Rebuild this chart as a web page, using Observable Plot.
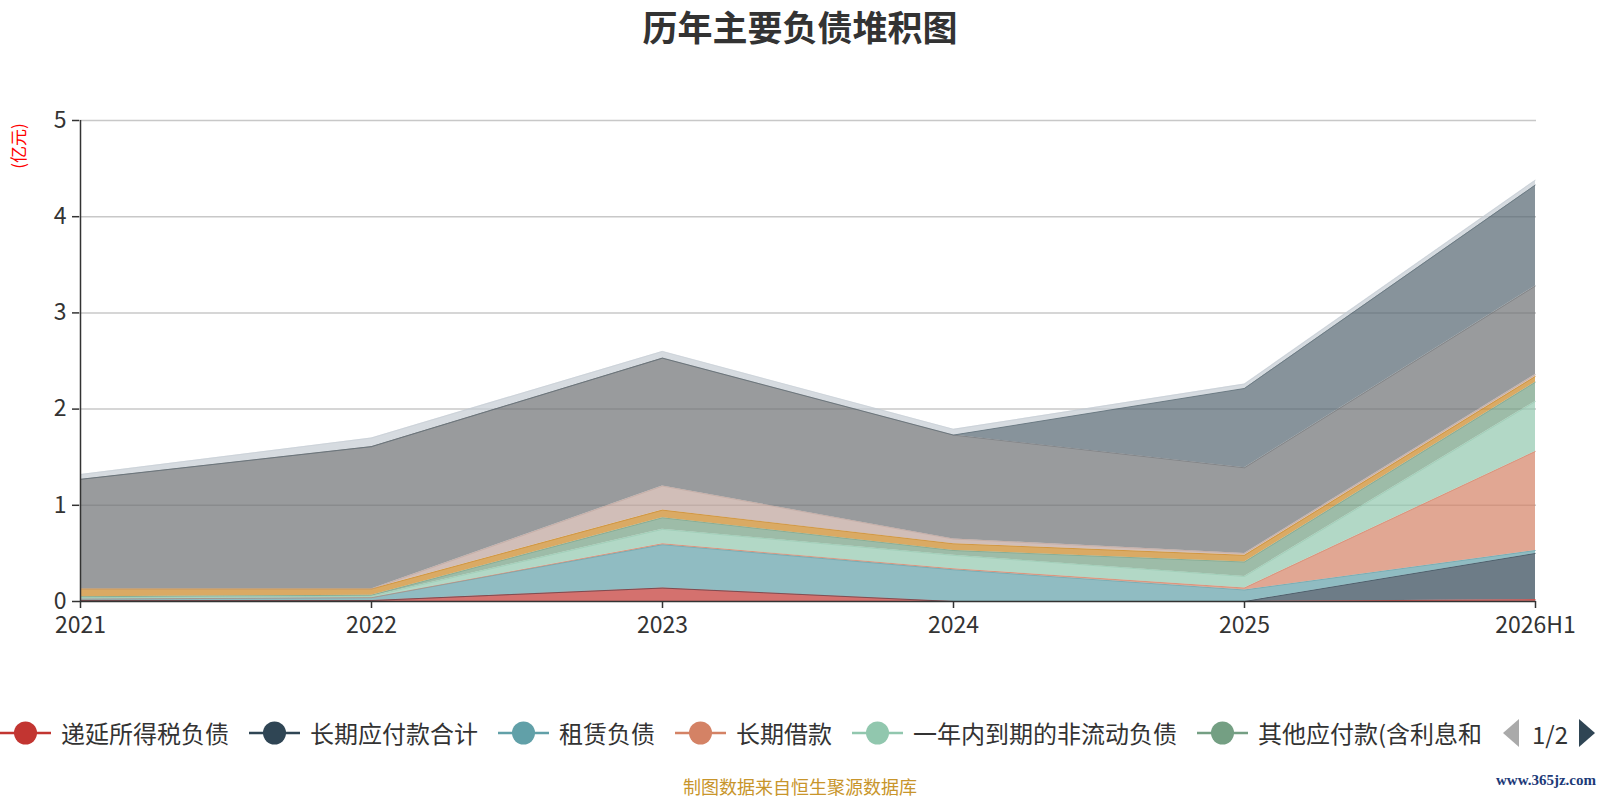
<!DOCTYPE html>
<html>
<head>
<meta charset="utf-8">
<script src="https://cdn.jsdelivr.net/npm/d3@7"></script>
<script src="https://cdn.jsdelivr.net/npm/@observablehq/plot@0.6"></script>
<style>
  html, body { margin: 0; padding: 0; background: #fff; }
  #wrap { position: relative; width: 1600px; height: 800px; overflow: hidden;
          font-family: "Noto Sans CJK SC", "Noto Sans", sans-serif; color: #333; }
  #title { position: absolute; left: 0; width: 1600px; top: 4px; text-align: center;
           font-size: 35px; font-weight: bold; color: #333; line-height: 44px; }
  #ylabel { position: absolute; left: 17px; top: 146px; transform: translate(-50%, -50%) rotate(-90deg);
            color: #ff0000; font-size: 17px; white-space: nowrap; }
  #chart { position: absolute; left: 0; top: 0; }
  #legend { position: absolute; left: 0; top: 715px; height: 36px; display: flex; align-items: center; }
  .item { display: flex; align-items: center; margin-right: 20px; }
  .item span { font-size: 24px; color: #333; margin-left: 10px; white-space: nowrap; line-height: 36px; }
  #pager { position: absolute; left: 1502px; top: 715px; height: 36px; display: flex; align-items: center; }
  #pager span { font-size: 24px; color: #333; margin: 0 10px 0 12px; }
  #footer { position: absolute; left: 0; width: 1600px; top: 775px; text-align: center;
            font-size: 18px; color: #c8952b; line-height: 22px; }
  #mark { position: absolute; right: 4px; top: 772px; font-family: "Liberation Serif", serif;
          font-weight: bold; font-size: 15px; color: #1d3a78; }
</style>
</head>
<body>
<div id="wrap">
  <div id="chart"></div>
  <div id="title"></div>
  <div id="ylabel"></div>
  <div id="legend"></div>
  <div id="pager"></div>
  <div id="footer"></div>
  <div id="mark"></div>
</div>
<script>
// ---- data (亿元) ----
const years = ["2021", "2022", "2023", "2024", "2025", "2026H1"];
const seriesNames = ["递延所得税负债", "长期应付款合计", "租赁负债", "长期借款", "一年内到期的非流动负债",
  "其他应付款(含利息和股利)", "应付职工薪酬", "合同负债", "应付账款", "短期借款", "应交税费"];
const legendLabels = ["递延所得税负债", "长期应付款合计", "租赁负债", "长期借款", "一年内到期的非流动负债", "其他应付款(含利息和"];
const deferredTax   = [0.01, 0.01, 0.14, 0.00, 0.00, 0.02];
const longPayable   = [0.00, 0.00, 0.00, 0.00, 0.00, 0.48];
const leaseLiab     = [0.015, 0.03, 0.45, 0.33, 0.12, 0.03];
const longLoan      = [0.00, 0.00, 0.01, 0.01, 0.02, 1.03];
const currentNonCur = [0.015, 0.015, 0.15, 0.14, 0.12, 0.52];
const otherPayable  = [0.01, 0.01, 0.12, 0.05, 0.15, 0.20];
const staffPay      = [0.08, 0.065, 0.08, 0.07, 0.07, 0.06];
const contractLiab  = [0.00, 0.00, 0.25, 0.05, 0.02, 0.02];
const accountsPay   = [1.14, 1.48, 1.33, 1.08, 0.89, 0.92];
const shortLoan     = [0.00, 0.00, 0.00, 0.00, 0.825, 1.05];
const taxPayable    = [0.05, 0.09, 0.07, 0.06, 0.045, 0.05];
const yTicks = [0, 1, 2, 3, 4, 5];
const titleText = "历年主要负债堆积图";
const unitText = "(亿元)";
const footerText = "制图数据来自恒生聚源数据库";
const markText = "www.365jz.com";
const pageText = "1/2";

const palette = ["#c23531", "#2f4554", "#61a0a8", "#d48265", "#91c7ae", "#749f83",
  "#ca8622", "#bda29a", "#6e7074", "#546570", "#c4ccd3"];

const seriesValues = [deferredTax, longPayable, leaseLiab, longLoan, currentNonCur, otherPayable,
  staffPay, contractLiab, accountsPay, shortLoan, taxPayable];
const rows = [];
seriesNames.forEach((s, i) => years.forEach((y, j) => rows.push({series: s, year: y, value: seriesValues[i][j]})));

const chart = Plot.plot({
  width: 1600,
  height: 660,
  marginLeft: 79,
  marginRight: 64,
  marginTop: 120,
  marginBottom: 59,
  style: {fontFamily: "'Noto Sans CJK SC', 'Noto Sans', sans-serif", fontSize: "23px", color: "#333", background: "transparent", overflow: "visible"},
  x: {type: "point", domain: years, padding: 0, label: null},
  y: {domain: [0, 5], label: null},
  color: {domain: seriesNames, range: palette},
  marks: [
    Plot.gridY(yTicks.slice(1), {stroke: "#c8c8c8", strokeOpacity: 1, strokeWidth: 1.5}),
    Plot.areaY(rows, {x: "year", y: "value", z: "series", fill: "series", order: seriesNames, fillOpacity: 0.7}),
    Plot.lineY(rows, Plot.stackY2({x: "year", y: "value", z: "series", stroke: "series", order: seriesNames, strokeWidth: 1, strokeOpacity: 0.5})),
    Plot.ruleY([0], {stroke: "#333", strokeWidth: 1.5}),
    Plot.ruleX([years[0]], {stroke: "#333", strokeWidth: 1.5}),
    Plot.axisY({ticks: yTicks, tickFormat: d3.format("d"), tickSize: 7, tickPadding: 6, fontSize: 23, stroke: "#333", strokeWidth: 1.5, label: null}),
    Plot.axisX({tickSize: 7, tickPadding: 8, fontSize: 23, stroke: "#333", strokeWidth: 1.5, label: null})
  ]
});
document.getElementById("chart").appendChild(chart);

document.getElementById("title").textContent = titleText;
document.getElementById("ylabel").textContent = unitText;
document.getElementById("footer").textContent = footerText;
document.getElementById("mark").textContent = markText;

const legend = document.getElementById("legend");
legendLabels.forEach((lab, i) => {
  const c = palette[i];
  const item = document.createElement("div");
  item.className = "item";
  item.innerHTML = `<svg width="51" height="26"><line x1="0" x2="51" y1="13" y2="13" stroke="${c}" stroke-width="2.5"/><circle cx="25.5" cy="13" r="11.5" fill="${c}"/></svg><span></span>`;
  item.querySelector("span").textContent = lab;
  legend.appendChild(item);
});
const pager = document.getElementById("pager");
pager.innerHTML = `<svg width="18" height="30"><path d="M17,1 L1,15 L17,29 Z" fill="#aaa"/></svg><span></span><svg width="18" height="30"><path d="M1,1 L17,15 L1,29 Z" fill="#2f4554"/></svg>`;
pager.querySelector("span").textContent = pageText;
</script>
</body>
</html>
